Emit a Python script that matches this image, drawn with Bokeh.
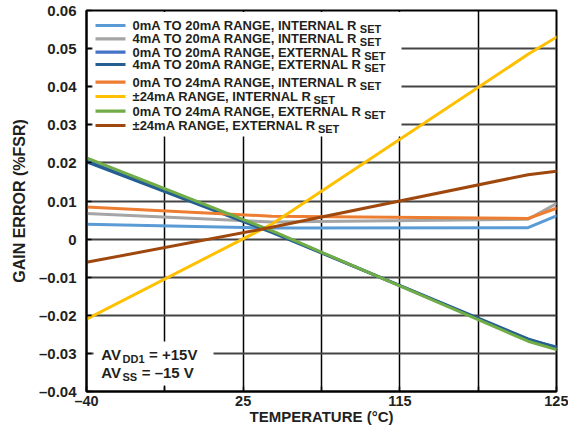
from bokeh.plotting import figure
from bokeh.models import Range1d, FixedTicker, CustomJSTickFormatter, Label, BoxAnnotation
from bokeh.embed import file_html
from bokeh.resources import INLINE

# ---------------- data ----------------
temps = [-40, 25, 115, 125]

s_0_20_int = [0.0039, 0.0029, 0.0030, 0.0061]
s_4_20_int = [0.0067, 0.0045, 0.0052, 0.0093]
s_0_20_ext = [0.0205, 0.0020, -0.0264, -0.0283]
s_4_20_ext = [0.0203, 0.0018, -0.0262, -0.0285]
s_0_24_int = [0.0084, 0.0060, 0.0054, 0.0081]
s_pm24_int = [-0.0210, 0.0039, 0.0485, 0.0530]
s_0_24_ext = [0.0213, 0.0022, -0.0268, -0.0290]
s_pm24_ext = [-0.0061, 0.0031, 0.0169, 0.0178]

series = [s_0_20_int, s_4_20_int, s_0_20_ext, s_4_20_ext,
          s_0_24_int, s_pm24_int, s_0_24_ext, s_pm24_ext]
legend_labels = ["0mA TO 20mA RANGE, INTERNAL R",
                 "4mA TO 20mA RANGE, INTERNAL R",
                 "0mA TO 20mA RANGE, EXTERNAL R",
                 "4mA TO 20mA RANGE, EXTERNAL R",
                 "0mA TO 24mA RANGE, INTERNAL R",
                 "\u00b124mA RANGE, INTERNAL R",
                 "0mA TO 24mA RANGE, EXTERNAL R",
                 "\u00b124mA RANGE, EXTERNAL R"]
legend_sub = "SET"
colors = ["#5B9BD5", "#A5A5A5", "#4472C4", "#255E91",
          "#ED7D31", "#FFC000", "#70AD47", "#9E480E"]

x_tick_values = [-40, -12.5, 15, 42.5, 70, 97.5, 125]
x_tick_labels = ["\u201340", "", "25", "", "115", "", "125"]
y_tick_values = [-0.04, -0.03, -0.02, -0.01, 0, 0.01, 0.02, 0.03, 0.04, 0.05, 0.06]
y_tick_labels = ["\u20130.04", "\u20130.03", "\u20130.02", "\u20130.01", "0",
                 "0.01", "0.02", "0.03", "0.04", "0.05", "0.06"]

# ---------------- layout ----------------
FONT = "Liberation Sans"
TXT = "#231F20"
W, H = 568, 428
BL, BR, BT, BB = 86, 12, 10, 37
FW, FH = W - BL - BR, H - BT - BB
X0, X1, Y0, Y1 = -40, 125, -0.04, 0.06
dx = (X1 - X0) / FW
dy = (Y1 - Y0) / FH

AW = {' ': 278, 'm': 889, 'A': 722, 'T': 611, 'O': 778, 'R': 722, 'N': 722,
      'G': 778, 'E': 667, ',': 278, 'I': 278, 'L': 611, 'X': 667, 'S': 667,
      '\u00b1': 549, 'V': 667, 'D': 722, '=': 584, '+': 584, '\u2013': 556, '.': 278}
for d in "0123456789":
    AW[d] = 556


def tw(s, size):
    return sum(AW.get(c, 600) for c in s) * size / 1000.0


p = figure(width=W, height=H, output_backend="svg", toolbar_location=None, title=None,
           x_range=Range1d(X0, X1), y_range=Range1d(Y0, Y1),
           min_border_left=BL, min_border_right=BR, min_border_top=BT, min_border_bottom=BB)
p.background_fill_color = "white"
p.border_fill_color = "white"
p.outline_line_color = "black"
p.outline_line_width = 2
p.outline_line_alpha = 1

p.xaxis.ticker = FixedTicker(ticks=x_tick_values, minor_ticks=[])
p.yaxis.ticker = FixedTicker(ticks=y_tick_values, minor_ticks=[])
fmt_code = "const i = vals.findIndex(v => Math.abs(v - tick) < 1e-9); return i >= 0 ? labs[i] : '';"
p.xaxis.formatter = CustomJSTickFormatter(args=dict(vals=x_tick_values, labs=x_tick_labels), code=fmt_code)
p.yaxis.formatter = CustomJSTickFormatter(args=dict(vals=y_tick_values, labs=y_tick_labels), code=fmt_code)

for ax in (p.xaxis, p.yaxis):
    ax.axis_line_width = 2
    ax.axis_line_color = "black"
    ax.major_tick_in = 5
    ax.major_tick_out = 0
    ax.major_tick_line_color = "black"
    ax.major_tick_line_width = 1.5
    ax.major_label_text_font = FONT
    ax.major_label_text_font_style = "bold"
    ax.major_label_text_color = TXT
    ax.axis_label_text_font = FONT
    ax.axis_label_text_font_style = "bold"
    ax.axis_label_text_color = TXT

p.yaxis.major_label_text_font_size = "15px"
p.yaxis.axis_label_text_font_size = "16px"
p.xaxis.major_label_text_font_size = "14.5px"
p.xaxis.axis_label_text_font_size = "15px"

p.xaxis.axis_label = "TEMPERATURE (\u00b0C)"
p.yaxis.axis_label = "GAIN ERROR (%FSR)"
p.xaxis.major_label_standoff = 1
p.xaxis.axis_label_standoff = -4
p.yaxis.major_label_standoff = 10
p.yaxis.axis_label_standoff = 8

p.xgrid.grid_line_color = "black"
p.xgrid.grid_line_width = 1.5
p.ygrid.grid_line_color = "#454545"
p.ygrid.grid_line_width = 2

for vals, col in zip(series, colors):
    p.line(temps, vals, line_color=col, line_width=3, line_join="round", line_cap="round")

# ---------------- legend (manual, to allow subscripts) ----------------
p.add_layout(BoxAnnotation(left=X0 + 6 * dx, right=X0 + 315 * dx,
                           top=Y1 - 1.5 * dy, bottom=Y1 - 126 * dy,
                           fill_color="white", fill_alpha=1, line_alpha=0))
p.add_layout(BoxAnnotation(left=X0 + 7 * dx, right=X0 + 127 * dx,
                           top=Y0 + 50 * dy, bottom=Y0 + 6 * dy,
                           fill_color="white", fill_alpha=1, line_alpha=0))

LEG_FS = 13
row_offsets = [15, 28.3, 41.7, 54, 71.7, 86, 100.7, 115]
for lab, col, ro in zip(legend_labels, colors, row_offsets):
    p.add_layout(BoxAnnotation(left=X0 + 9 * dx, right=X0 + 39 * dx,
                               top=Y1 - (ro - 1.6) * dy, bottom=Y1 - (ro + 1.6) * dy,
                               fill_color=col, fill_alpha=1, line_alpha=0))
    p.add_layout(Label(x=X0, y=Y1, x_offset=46, y_offset=-ro, text=lab,
                       text_font=FONT, text_font_style="bold", text_font_size=f"{LEG_FS}px",
                       text_color=TXT, text_baseline="middle", text_align="left"))
    p.add_layout(Label(x=X0, y=Y1, x_offset=46 + tw(lab, LEG_FS) + 2, y_offset=-(ro + 3.5),
                       text=legend_sub,
                       text_font=FONT, text_font_style="bold", text_font_size="11px",
                       text_color=TXT, text_baseline="middle", text_align="left"))

# ---------------- supply annotation ----------------
ann_rows = [("AV", "DD1", "= +15V", 37), ("AV", "SS", "= \u201315 V", 19)]
for main, sub, rest, yo in ann_rows:
    xo = 14.7
    p.add_layout(Label(x=X0, y=Y0, x_offset=xo, y_offset=yo, text=main,
                       text_font=FONT, text_font_style="bold", text_font_size="15px",
                       text_color=TXT, text_baseline="middle", text_align="left"))
    xo += tw(main, 15) + 0.5
    p.add_layout(Label(x=X0, y=Y0, x_offset=xo, y_offset=yo - 4, text=sub,
                       text_font=FONT, text_font_style="bold", text_font_size="11px",
                       text_color=TXT, text_baseline="middle", text_align="left"))
    xo += tw(sub, 11) + 4.5
    p.add_layout(Label(x=X0, y=Y0, x_offset=xo, y_offset=yo, text=rest,
                       text_font=FONT, text_font_style="bold", text_font_size="15px",
                       text_color=TXT, text_baseline="middle", text_align="left"))

open("out.html", "w").write(file_html(p, INLINE))
